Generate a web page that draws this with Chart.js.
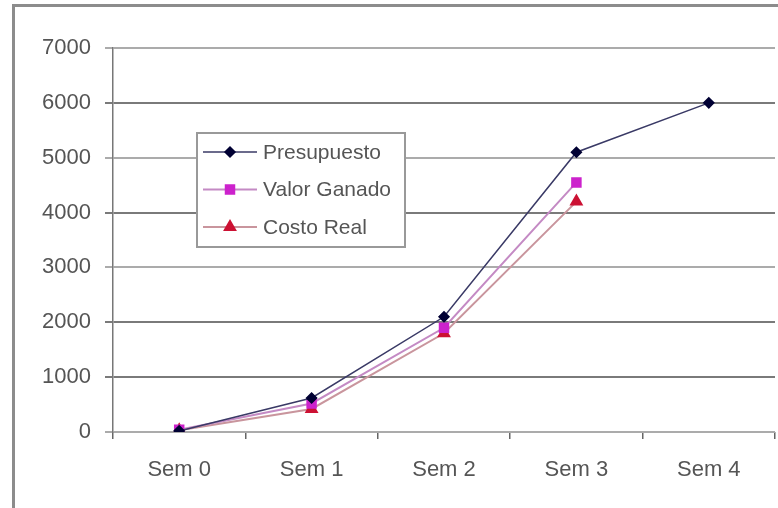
<!DOCTYPE html>
<html>
<head>
<meta charset="utf-8">
<script src="https://cdn.jsdelivr.net/npm/chart.js@4.4.1/dist/chart.umd.min.js"></script>
<style>
html, body { margin: 0; padding: 0; background: #fff; }
#wrap { position: relative; width: 778px; height: 508px; overflow: hidden; }
#frame { position: absolute; left: 12px; top: 4px; width: 820px; height: 600px; border: 3px solid #8c8c8c; box-sizing: border-box; }
#chart { position: absolute; left: 0; top: 0; }
</style>
</head>
<body>
<div id="wrap">
  <div id="frame"></div>
  <canvas id="chart" width="778" height="508"></canvas>
</div>
<script>
"use strict";

// Datos
const semanas = ["Sem 0", "Sem 1", "Sem 2", "Sem 3", "Sem 4"];
const presupuesto = [20, 620, 2100, 5100, 6000];
const valorGanado = [40, 520, 1900, 4550, null];
const costoReal = [30, 420, 1800, 4200, null];
const nombres = ["Presupuesto", "Valor Ganado", "Costo Real"];

// Leyenda dibujada dentro del área del gráfico
const cajaLeyenda = {
  id: 'cajaLeyenda',
  afterDraw(chart) {
    const ctx = chart.ctx;
    const x = 197, y = 133, w = 208, h = 114;
    ctx.save();
    ctx.fillStyle = '#fff';
    ctx.fillRect(x, y, w, h);
    ctx.strokeStyle = '#999';
    ctx.lineWidth = 2;
    ctx.strokeRect(x, y, w, h);
    chart.data.datasets.forEach((ds, i) => {
      const cy = y + 19 + i * 37.5;
      ctx.strokeStyle = ds.borderColor;
      ctx.lineWidth = ds.borderWidth;
      ctx.beginPath();
      ctx.moveTo(x + 6, cy);
      ctx.lineTo(x + 60, cy);
      ctx.stroke();
      ctx.fillStyle = ds.pointBackgroundColor;
      ctx.strokeStyle = ds.pointBorderColor;
      Chart.helpers.drawPoint(ctx, { pointStyle: ds.pointStyle, radius: ds.pointRadius, borderWidth: 1, rotation: 0 }, x + 33, cy);
      ctx.fillStyle = '#555';
      ctx.font = '21px "Liberation Sans", Arial, sans-serif';
      ctx.textBaseline = 'middle';
      ctx.textAlign = 'left';
      ctx.fillText(ds.label, x + 66, cy + 1);
    });
    ctx.restore();
  }
};

const ctx = document.getElementById('chart');

const grafico = new Chart(ctx, {
  type: 'line',
  data: {
    labels: semanas,
    datasets: [{
      label: nombres[0],
      data: presupuesto,
      borderColor: '#3a3a66',
      borderWidth: 1.5,
      pointStyle: 'rectRot',
      pointRadius: 5,
      pointBackgroundColor: '#000033',
      pointBorderColor: '#000033',
      tension: 0
    }, {
      label: nombres[1],
      data: valorGanado,
      borderColor: '#c48ac4',
      borderWidth: 2,
      pointStyle: 'rect',
      pointRadius: 6,
      pointBackgroundColor: '#cc22cc',
      pointBorderColor: '#cc22cc',
      tension: 0
    }, {
      label: nombres[2],
      data: costoReal,
      borderColor: '#c9959d',
      borderWidth: 2,
      pointStyle: 'triangle',
      pointRadius: 6,
      pointBackgroundColor: '#cc1133',
      pointBorderColor: '#cc1133',
      tension: 0
    }]
  },
  options: {
    responsive: false,
    animation: false,
    devicePixelRatio: 1,
    layout: { autoPadding: false, padding: { top: 48, right: 3, left: 0, bottom: 0 } },
    plugins: {
      legend: { display: false },
      tooltip: { enabled: false }
    },
    scales: {
      x: {
        offset: true,
        afterFit: s => { s.height = 76; },
        grid: {
          offset: true,
          drawOnChartArea: false,
          drawTicks: true,
          tickLength: 7,
          color: '#666',
          lineWidth: 1.5
        },
        border: { display: false },
        ticks: {
          color: '#555',
          padding: 18,
          font: { family: '"Liberation Sans", Arial, sans-serif', size: 22 }
        }
      },
      y: {
        min: 0,
        max: 7000,
        afterFit: s => { s.width = 113; },
        grid: {
          color: c => [1000, 2000, 4000, 6000].includes(c.tick.value) ? '#7a7a7a' : '#ababab',
          lineWidth: 2,
          tickLength: 8
        },
        border: { display: true, color: '#777', width: 1.5 },
        ticks: {
          stepSize: 1000,
          color: '#555',
          padding: 14,
          callback: v => String(v),
          font: { family: '"Liberation Sans", Arial, sans-serif', size: 22 }
        }
      }
    }
  },
  plugins: [cajaLeyenda]
});
</script>
</body>
</html>
